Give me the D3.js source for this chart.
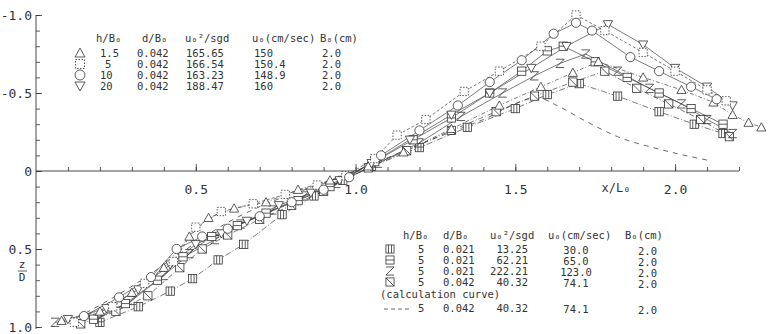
<!DOCTYPE html>
<html>
<head>
<meta charset="utf-8">
<script src="https://cdn.jsdelivr.net/npm/d3@7"></script>
<style>
body { margin: 0; background: #fff; }
text { font-family: "DejaVu Sans Mono", monospace; fill: #333; }
</style>
</head>
<body>
<div id="chart"></div>
<script>
var svgWidth = 768
var svgHeight = 334

// series: [x/L0, z/D]
var triUp = [[0.08,0.96],[0.2,0.9],[0.3,0.78],[0.4,0.62],[0.48,0.42],[0.54,0.3],[0.62,0.24],[0.72,0.2],[0.82,0.12],[0.92,0.06],
  [1.04,-0.03],[1.15,-0.12],[1.3,-0.27],[1.45,-0.42],[1.58,-0.54],[1.68,-0.63],[1.76,-0.7],[1.9,-0.6],[2.02,-0.52],[2.12,-0.44],[2.18,-0.36],[2.23,-0.31],[2.27,-0.28]]
var dotSq = [[0.12,0.97],[0.24,0.87],[0.34,0.72],[0.43,0.58],[0.5,0.36],[0.58,0.26],[0.68,0.21],[0.78,0.15],[0.88,0.09],[0.97,0.03],
  [1.06,-0.08],[1.13,-0.23],[1.22,-0.33],[1.34,-0.51],[1.45,-0.64],[1.58,-0.8],[1.69,-1.0],[1.78,-0.9],[1.9,-0.76],[2.0,-0.64],[2.1,-0.52],[2.16,-0.45]]
var circ = [[0.15,0.93],[0.26,0.81],[0.36,0.68],[0.44,0.5],[0.52,0.42],[0.6,0.37],[0.7,0.29],[0.8,0.2],[0.9,0.12],[0.98,0.04],
  [1.08,-0.1],[1.2,-0.26],[1.32,-0.42],[1.42,-0.57],[1.52,-0.71],[1.62,-0.88],[1.69,-0.95],[1.74,-0.9],[1.86,-0.73],[1.95,-0.64],[2.05,-0.54],[2.13,-0.46]]
var triDown = [[0.1,0.95],[0.22,0.88],[0.32,0.76],[0.42,0.6],[0.5,0.47],[0.58,0.4],[0.66,0.32],[0.76,0.22],[0.86,0.14],[0.95,0.06],
  [1.05,-0.05],[1.17,-0.2],[1.3,-0.36],[1.42,-0.5],[1.55,-0.66],[1.66,-0.8],[1.79,-0.94],[1.9,-0.81],[2.0,-0.66],[2.1,-0.54],[2.18,-0.42]]
var hBar = [[0.18,0.95],[0.28,0.85],[0.38,0.7],[0.46,0.55],[0.55,0.42],[0.63,0.35],[0.72,0.27],[0.82,0.19],[0.92,0.1],
  [1.06,-0.06],[1.18,-0.2],[1.3,-0.34],[1.42,-0.5],[1.52,-0.64],[1.6,-0.77],[1.65,-0.8],[1.75,-0.7],[1.85,-0.6],[1.95,-0.5],[2.05,-0.4],[2.15,-0.3]]
var zig = [[0.06,0.97],[0.2,0.94],[0.3,0.83],[0.4,0.67],[0.48,0.53],[0.56,0.44],[0.64,0.34],[0.74,0.25],[0.84,0.16],[0.94,0.08],
  [1.07,-0.05],[1.2,-0.18],[1.33,-0.35],[1.46,-0.5],[1.56,-0.61],[1.64,-0.69],[1.72,-0.75],[1.82,-0.64],[1.92,-0.53],[2.02,-0.43],[2.1,-0.33],[2.18,-0.24]]
var diag = [[0.14,0.98],[0.25,0.9],[0.35,0.8],[0.45,0.62],[0.52,0.5],[0.6,0.41],[0.7,0.31],[0.8,0.22],[0.9,0.13],
  [1.04,-0.02],[1.16,-0.13],[1.3,-0.26],[1.44,-0.38],[1.56,-0.48],[1.68,-0.57],[1.78,-0.64],[1.88,-0.53],[1.98,-0.43],[2.08,-0.33],[2.17,-0.22]]
var triBar = [[0.2,0.97],[0.32,0.87],[0.42,0.77],[0.49,0.69],[0.57,0.57],[0.65,0.47],[0.77,0.28],[0.87,0.16],[0.96,0.06],
  [1.05,-0.03],[1.2,-0.15],[1.35,-0.28],[1.5,-0.4],[1.6,-0.49],[1.7,-0.56],[1.82,-0.48],[1.95,-0.38],[2.06,-0.3],[2.15,-0.24]]
var calc = [[0.1,0.97],[0.2,0.86],[0.33,0.7],[0.45,0.53],[0.6,0.33],[0.77,0.17],[0.9,0.08],[1.0,0],[1.2,-0.17],[1.4,-0.33],
  [1.57,-0.47],[1.63,-0.42],[1.72,-0.32],[1.82,-0.22],[1.95,-0.14],[2.1,-0.07]]

var xMajor = [0.5, 1.0, 1.5, 2.0]
var yMajor = [-1.0, -0.5, 0, 0.5, 1.0]

var topHeader = ["h/B\u2080", "d/B\u2080", "u\u2080\u00b2/sgd", "u\u2080(cm/sec)", "B\u2080(cm)"]
var topRows = [["1.5","0.042","165.65","150","2.0"],["5","0.042","166.54","150.4","2.0"],
  ["10","0.042","163.23","148.9","2.0"],["20","0.042","188.47","160","2.0"]]
var botRows = [["5","0.021","13.25","30.0","2.0"],["5","0.021","62.21","65.0","2.0"],
  ["5","0.021","222.21","123.0","2.0"],["5","0.042","40.32","74.1","2.0"]]
var calcRow = ["5","0.042","40.32","74.1","2.0"]

var series = [
  {data: triBar, sym: "triBar", dash: "6,2,1,2"},
  {data: diag, sym: "diag", dash: "5,2,1,2"},
  {data: zig, sym: "zig", dash: null},
  {data: hBar, sym: "hBar", dash: null},
  {data: triUp, sym: "triUp", dash: "4,2,1,2"},
  {data: triDown, sym: "triDown", dash: null},
  {data: dotSq, sym: "dotSq", dash: "3,2"},
  {data: circ, sym: "circle", dash: null}
]

var svg = d3.select("#chart").append("svg").attr("width", svgWidth).attr("height", svgHeight)

var xScale = d3.scaleLinear().domain([0, 2.2]).range([36, 739])
var yScale = d3.scaleLinear().domain([-1, 1]).range([15, 327])

// axes
var xMinor = d3.axisBottom(xScale).tickValues(d3.range(0.1, 2.21, 0.1)).tickSize(-4).tickFormat("")
var xAx = svg.append("g").attr("transform", `translate(0, ${yScale(0)})`).call(xMinor)
xAx.select(".domain").attr("d", `M${xScale(0)},0H${xScale(2.2)}`)
var xMaj = d3.axisBottom(xScale).tickValues(xMajor).tickSize(-7).tickPadding(14).tickFormat(d3.format(".1f"))
var xAx2 = svg.append("g").attr("transform", `translate(0, ${yScale(0)})`).call(xMaj)
xAx2.select(".domain").remove()

var yMinor = d3.axisLeft(yScale).tickValues(d3.range(-1, 1.01, 0.1)).tickSize(-4).tickFormat("")
var yAx = svg.append("g").attr("transform", `translate(${xScale(0)}, 0)`).call(yMinor)
yAx.select(".domain").attr("d", `M0,${yScale(-1)}V${yScale(1) + 2}`)
var yMaj = d3.axisLeft(yScale).tickValues(yMajor).tickSize(-6).tickPadding(4)
  .tickFormat(d => d == 0 ? "0" : d3.format(".1f")(d).replace("\u2212", "-"))
var yAx2 = svg.append("g").attr("transform", `translate(${xScale(0)}, 0)`).call(yMaj)
yAx2.select(".domain").remove()

svg.selectAll(".tick line").attr("stroke", "#333").attr("stroke-width", 0.8)
svg.selectAll(".domain").attr("stroke", "#333").attr("stroke-width", 0.9)
svg.selectAll(".tick text").attr("font-size", 13).attr("font-family", "DejaVu Sans Mono").attr("fill", "#333")

svg.append("text").attr("x", 616).attr("y", 192).attr("text-anchor", "middle").attr("font-size", 12).text("x/L\u2080")

// y label z/D
svg.append("text").attr("x", 22).attr("y", 268).attr("text-anchor", "middle").attr("font-size", 11).text("z")
svg.append("line").attr("x1", 18).attr("x2", 27).attr("y1", 271).attr("y2", 271).attr("stroke", "#333").attr("stroke-width", 0.8)
svg.append("text").attr("x", 22).attr("y", 281).attr("text-anchor", "middle").attr("font-size", 11).text("D")

function marker(g, type, s) {
  var st = {fill: "#fff", stroke: "#333", "stroke-width": 0.8}
  function app(tag) {
    var el = g.append(tag)
    for (var k in st) el.attr(k, st[k])
    return el
  }
  var h = s * 0.9
  if (type == "circle") app("circle").attr("r", s)
  else if (type == "triUp") app("path").attr("d", `M0,${-s}L${s},${s * 0.8}L${-s},${s * 0.8}Z`)
  else if (type == "triDown") app("path").attr("d", `M0,${s}L${s},${-s * 0.8}L${-s},${-s * 0.8}Z`)
  else if (type == "dotSq") app("rect").attr("x", -h).attr("y", -h).attr("width", 2 * h).attr("height", 2 * h).attr("stroke-dasharray", "1.5,1.5")
  else {
    if (type != "zig") app("rect").attr("x", -h).attr("y", -h).attr("width", 2 * h).attr("height", 2 * h)
    if (type == "triBar") app("path").attr("d", `M-1.5,${-h}V${h}M1.5,${-h}V${h}`)
    if (type == "hBar") app("path").attr("d", `M${-h},0H${h}`)
    if (type == "diag") app("path").attr("d", `M${-h},${-h}L${h},${h}`)
    if (type == "zig") app("path").attr("fill", "none").attr("d", `M${-h},${-h}H${h}L${-h},${h}H${h}`)
  }
}

var line = d3.line().x(d => xScale(d[0])).y(d => yScale(d[1]))

var plot = svg.append("g")
series.forEach(function (s) {
  plot.append("path").datum(s.data).attr("d", line).attr("fill", "none")
    .attr("stroke", "#444").attr("stroke-width", 0.7).attr("stroke-dasharray", s.dash)
})
plot.append("path").datum(calc).attr("d", d3.line().x(d => xScale(d[0])).y(d => yScale(d[1])).curve(d3.curveMonotoneX))
  .attr("fill", "none").attr("stroke", "#444").attr("stroke-width", 0.8).attr("stroke-dasharray", "5,5")
series.forEach(function (s) {
  plot.selectAll(null).data(s.data).enter().append("g")
    .attr("transform", d => `translate(${xScale(d[0])},${yScale(d[1])})`)
    .each(function () { marker(d3.select(this), s.sym, 4.6) })
})

// top legend
var topSyms = ["triUp", "dotSq", "circle", "triDown"]
var topHeadX = [96, 142, 185, 252, 320]
var topCols = [100, 137, 186, 254, 322]
var lg = svg.append("g")
topHeader.forEach(function (t, i) {
  lg.append("text").attr("x", topHeadX[i]).attr("y", 42).attr("font-size", 10.5).text(t)
})
topRows.forEach(function (r, j) {
  var yy = 57 + j * 11
  marker(lg.append("g").attr("transform", `translate(80, ${yy - 4})`), topSyms[j], 5)
  r.forEach(function (v, i) {
    var xx = topCols[i] + (i == 0 && v.length == 1 ? 5 : 0)
    lg.append("text").attr("x", xx).attr("y", yy).attr("font-size", 10.5).text(v)
  })
})

// bottom legend
var botSyms = ["triBar", "hBar", "zig", "diag"]
var botCols = [403, 443, 490, 548, 625]
var bl = svg.append("g")
topHeader.forEach(function (t, i) {
  bl.append("text").attr("x", botCols[i]).attr("y", 239).attr("font-size", 10.5).text(t)
})
botRows.forEach(function (r, j) {
  var yy = 253 + j * 11
  marker(bl.append("g").attr("transform", `translate(390, ${yy - 4})`), botSyms[j], 4.5)
  bl.append("text").attr("x", 418).attr("y", yy).attr("font-size", 10.5).text(r[0])
  bl.append("text").attr("x", 443).attr("y", yy).attr("font-size", 10.5).text(r[1])
  bl.append("text").attr("x", 528).attr("y", yy).attr("text-anchor", "end").attr("font-size", 10.5).text(r[2])
  bl.append("text").attr("x", 576).attr("y", yy + 1).attr("text-anchor", "middle").attr("font-size", 10.5).text(r[3])
  bl.append("text").attr("x", 638).attr("y", yy + 2).attr("font-size", 10.5).text(r[4])
})
bl.append("text").attr("x", 380).attr("y", 298).attr("font-size", 10.5).text("(calculation curve)")
bl.append("line").attr("x1", 384).attr("x2", 410).attr("y1", 309).attr("y2", 309)
  .attr("stroke", "#444").attr("stroke-width", 0.8).attr("stroke-dasharray", "4,3")
bl.append("text").attr("x", 418).attr("y", 312).attr("font-size", 10.5).text(calcRow[0])
bl.append("text").attr("x", 443).attr("y", 312).attr("font-size", 10.5).text(calcRow[1])
bl.append("text").attr("x", 528).attr("y", 312).attr("text-anchor", "end").attr("font-size", 10.5).text(calcRow[2])
bl.append("text").attr("x", 576).attr("y", 313).attr("text-anchor", "middle").attr("font-size", 10.5).text(calcRow[3])
bl.append("text").attr("x", 638).attr("y", 314).attr("font-size", 10.5).text(calcRow[4])
</script>
</body>
</html>
